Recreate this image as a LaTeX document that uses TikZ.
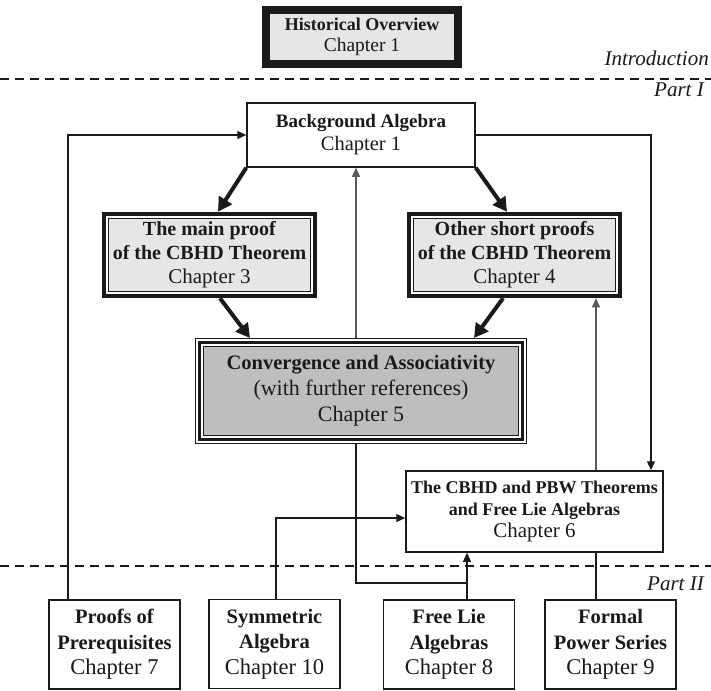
\documentclass[tikz,border=0pt]{standalone}
\usepackage{fontspec}
\setmainfont{Liberation Serif}
\usetikzlibrary{arrows.meta,backgrounds}
\definecolor{lg}{HTML}{E6E6E6}
\definecolor{mg}{HTML}{BEBEBE}
\definecolor{ink}{HTML}{1A1A1A}
\tikzset{
  plainbox/.style={draw=ink, line width=1.5pt, align=center, inner sep=0pt, text=ink},
  histbox/.style={draw=ink, line width=8pt, fill=lg, align=center, inner sep=0pt, text=ink,
    minimum width=192pt, minimum height=54pt},
  proofbox/.style={draw=ink, line width=4.5pt, align=center, inner sep=0pt, text=ink,
    minimum width=211pt, minimum height=82pt},
  convbox/.style={draw=ink, line width=1pt, align=center, inner sep=0pt, text=ink,
    minimum width=331pt, minimum height=105pt},
  botbox/.style={plainbox, minimum width=131pt, minimum height=89pt},
  arr/.style={draw=ink, line width=1.1pt, -{Triangle[length=9pt,width=8pt]}},
  grayarr/.style={arr, draw=black!65},
  link/.style={draw=ink, line width=1.1pt},
  bigarr/.style={draw=ink, line width=4pt, -{Triangle[length=14pt,width=15pt]}},
  sepline/.style={draw=ink, line width=1.2pt, dash pattern=on 9pt off 6pt},
  lbl/.style={font=\fontsize{21}{24}\selectfont\itshape, text=ink, inner sep=0pt, anchor=base east},
}
\begin{document}
\begin{tikzpicture}[x=1pt,y=-1pt]
\useasboundingbox (0,0) rectangle (711,690);

% separators and part labels
\draw[sepline] (0,79) -- (711,79);
\draw[sepline] (0,566) -- (711,566);
\node[lbl] (intro) at (709,66) {Introduction};
\node[lbl] (part1) at (704,97) {Part I};
\node[lbl] (part2) at (704,590) {Part II};

% nodes
\node[histbox, font=\fontsize{18}{21}\selectfont] (hist) at (362,37)
  {\textbf{Historical Overview}\\{\fontsize{19.5}{21}\selectfont Chapter 1}};
\node[plainbox, minimum width=228pt, minimum height=64pt, font=\fontsize{19}{23}\selectfont] (ba) at (361,135)
  {\textbf{Background Algebra}\\{\fontsize{20.5}{23}\selectfont Chapter 1}};
\node[proofbox, font=\fontsize{20}{24}\selectfont] (ch3) at (209.5,255)
  {\textbf{The main proof}\\\textbf{of the CBHD Theorem}\\{\fontsize{21}{24}\selectfont Chapter 3}};
\node[proofbox, font=\fontsize{20}{24}\selectfont] (ch4) at (514.5,255)
  {\textbf{Other short proofs}\\\textbf{of the CBHD Theorem}\\{\fontsize{21}{24}\selectfont Chapter 4}};
\node[convbox, font=\fontsize{20.5}{26}\selectfont] (conv) at (361,391)
  {\textbf{Convergence and Associativity}\\{\fontsize{22}{26}\selectfont (with further references)}\\{\fontsize{22}{26}\selectfont Chapter 5}};
\node[plainbox, minimum width=257pt, minimum height=81pt, font=\fontsize{18}{22}\selectfont] (cbhd) at (534.5,511.5)
  {\textbf{The CBHD and PBW Theorems}\\\textbf{and Free Lie Algebras}\\{\fontsize{21}{22}\selectfont Chapter 6}};
\node[botbox, font=\fontsize{20.5}{25.5}\selectfont] (proofs) at (114.5,644.5)
  {\textbf{Proofs of}\\\textbf{Prerequisites}\\{\fontsize{22.5}{25.5}\selectfont Chapter 7}};
\node[botbox, font=\fontsize{20.5}{25.5}\selectfont] (sym) at (274.5,644)
  {\textbf{Symmetric}\\\textbf{Algebra}\\{\fontsize{22.5}{25.5}\selectfont Chapter 10}};
\node[botbox, font=\fontsize{20.5}{25.5}\selectfont] (freelie) at (449,644.5)
  {\textbf{Free Lie}\\\textbf{Algebras}\\{\fontsize{22.5}{25.5}\selectfont Chapter 8}};
\node[botbox, font=\fontsize{20.5}{25.5}\selectfont] (formal) at (610.5,644.5)
  {\textbf{Formal}\\\textbf{Power Series}\\{\fontsize{22.5}{25.5}\selectfont Chapter 9}};

% inner frames (behind the text)
\begin{scope}[on background layer]
  \fill[white] (0,0) rectangle (711,690);
  \draw[draw=ink, line width=1pt, fill=lg] ([shift={(6.5,6.5)}]ch3.north west) rectangle ([shift={(-6.5,-6.5)}]ch3.south east);
  \draw[draw=ink, line width=1pt, fill=lg] ([shift={(6.5,6.5)}]ch4.north west) rectangle ([shift={(-6.5,-6.5)}]ch4.south east);
  \draw[draw=ink, line width=3.5pt] ([shift={(4.5,4.5)}]conv.north west) rectangle ([shift={(-4.5,-4.5)}]conv.south east);
  \draw[draw=ink, line width=1pt, fill=mg] ([shift={(8.5,8.5)}]conv.north west) rectangle ([shift={(-8.5,-8.5)}]conv.south east);
\end{scope}

% helper coordinates
\coordinate (xa) at (68,135);
\coordinate (xb) at (651,135);
\coordinate (xm) at (356,0);
\coordinate (xc) at (596,0);
\coordinate (xs) at (276,518);
\coordinate (xf) at (467,0);
\coordinate (jn) at (356,583);
\coordinate (t3) at (218,0);
\coordinate (t4) at (507,0);
\coordinate (s3) at (220,0);
\coordinate (s4) at (503,0);
\coordinate (c3) at (250,0);
\coordinate (c4) at (474,0);

% thick arrows
\draw[bigarr] (ba.south west) -- (ch3.north -| t3);
\draw[bigarr] (ba.south east) -- (ch4.north -| t4);
\draw[bigarr] (ch3.south -| s3) -- (conv.north -| c3);
\draw[bigarr] (ch4.south -| s4) -- (conv.north -| c4);

% thin connectors
\draw[arr] (proofs.north -| xa) -- (xa) -- (ba.west);
\draw[arr] (ba.east) -- (xb) -- (cbhd.north -| xb);
\draw[grayarr] (conv.north -| xm) -- (ba.south -| xm);
\draw[grayarr] (cbhd.north -| xc) -- (ch4.south -| xc);
\draw[link] (formal.north -| xc) -- (cbhd.south -| xc);
\draw[arr] (sym.north -| xs) -- (xs) -- (xs -| cbhd.west);
\draw[arr] (freelie.north -| xf) -- (cbhd.south -| xf);
\draw[link] (conv.south -| xm) -- (jn) -- (jn -| xf);
\end{tikzpicture}
\end{document}
